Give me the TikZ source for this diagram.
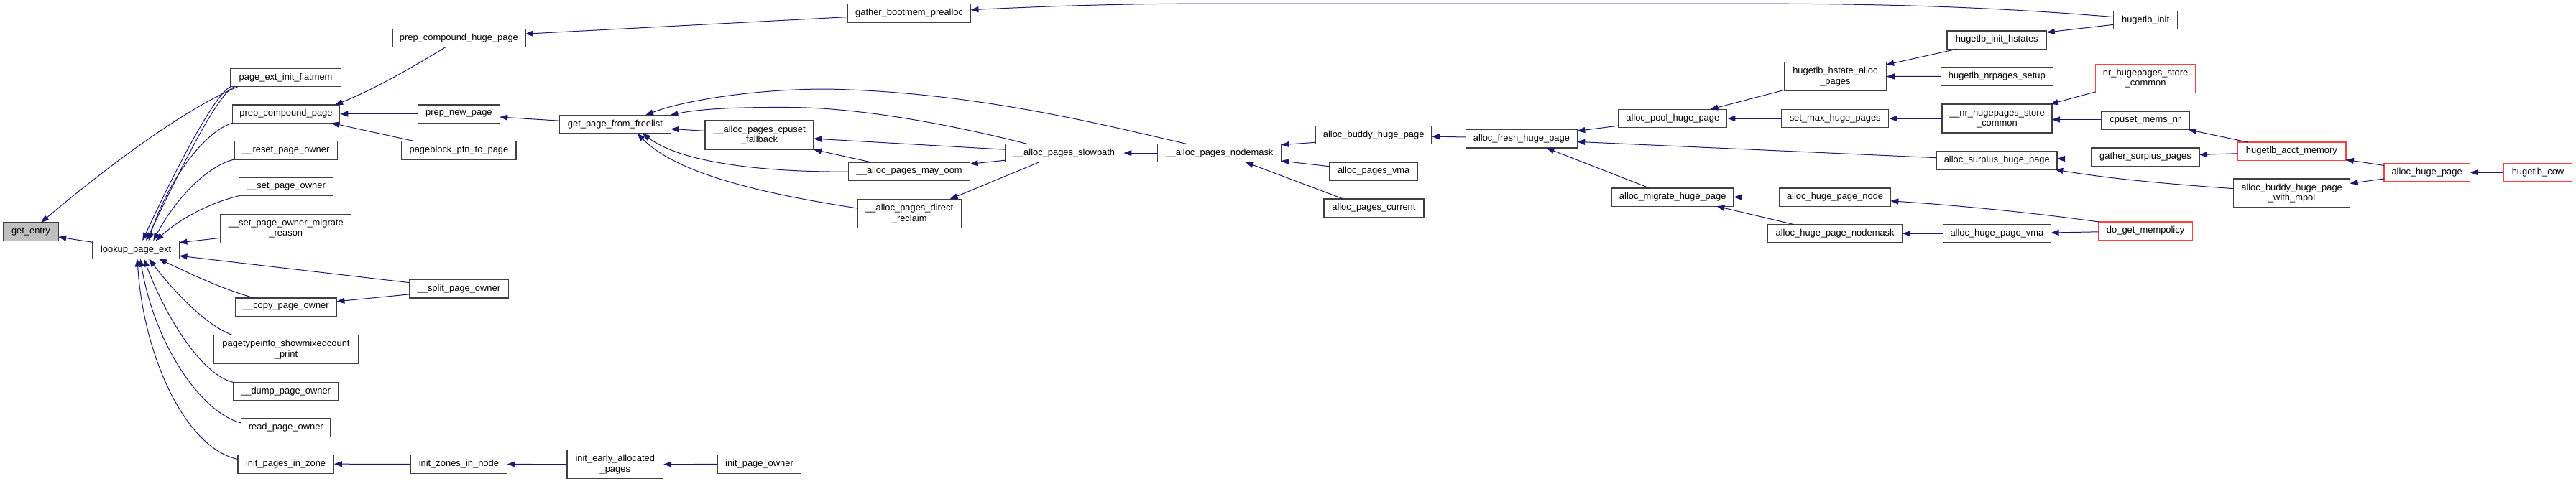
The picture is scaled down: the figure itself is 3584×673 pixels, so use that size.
\documentclass[tikz,border=0pt]{standalone}
\usepackage{fontspec}
\setmainfont{Liberation Sans}
\usetikzlibrary{calc,arrows.meta}
\definecolor{edgecol}{HTML}{191970}
\definecolor{boxcol}{HTML}{404040}
\definecolor{redcol}{HTML}{FF4040}
\definecolor{curfill}{HTML}{BFBFBF}
\tikzset{
  fn/.style={draw=boxcol, line width=1.3pt, fill=white, inner sep=0pt, minimum height=25.3pt,
    font=\fontsize{12.9}{14.4}\selectfont, align=center},
  fntwo/.style={fn, minimum height=40pt},
  hot/.style={draw=redcol},
  e/.style={draw=edgecol, line width=1pt, -{Triangle[length=11pt,width=8pt]}},
}
\begin{document}
\begin{tikzpicture}[x=1pt, y=-1pt]
\useasboundingbox (0,0) rectangle (3584,673);
% column 0-2
\node[fn, fill=curfill, minimum width=76.5pt] (ge) at (42.9,322.5) {get\_entry};
\node[fn, minimum width=120.5pt] (lk) at (189.2,347.9) {lookup\_page\_ext};
\node[fn, minimum width=153.8pt] (pei) at (397.6,108) {page\_ext\_init\_flatmem};
\node[fn, minimum width=149.2pt] (pcp) at (398,158.6) {prep\_compound\_page};
\node[fn, minimum width=142.8pt] (rpo) at (397.8,209.3) {\_\_reset\_page\_owner};
\node[fn, minimum width=130.8pt] (spo) at (398,259.9) {\_\_set\_page\_owner};
\node[fntwo, minimum width=181.8pt] (spomr) at (397.8,318.3) {\_\_set\_page\_owner\_migrate\\\_reason};
\node[fn, minimum width=141.2pt] (cpo) at (397.8,427.7) {\_\_copy\_page\_owner};
\node[fntwo, minimum width=201.2pt] (pti) at (398,486.5) {pagetypeinfo\_showmixedcount\\\_print};
\node[fn, minimum width=145.4pt] (dpo) at (397.6,545.3) {\_\_dump\_page\_owner};
\node[fn, minimum width=124.4pt] (rdpo) at (397.8,595.6) {read\_page\_owner};
\node[fn, minimum width=133.2pt] (ipz) at (397.6,646.2) {init\_pages\_in\_zone};
% column 3
\node[fn, minimum width=184.9pt] (pchp) at (638.4,53) {prep\_compound\_huge\_page};
\node[fn, minimum width=113.7pt] (pnp) at (638.4,158.6) {prep\_new\_page};
\node[fn, minimum width=159.2pt] (pbp) at (638.5,209.3) {pageblock\_pfn\_to\_page};
\node[fn, minimum width=138.1pt] (sppo) at (638.4,402.4) {\_\_split\_page\_owner};
\node[fn, minimum width=133.5pt] (izn) at (638.4,646.4) {init\_zones\_in\_node};
% column 4-5
\node[fn, minimum width=154.6pt] (gpf) at (855.9,173.2) {get\_page\_from\_freelist};
\node[fntwo, minimum width=133.5pt] (ieap) at (855.8,646.6) {init\_early\_allocated\\\_pages};
\node[fntwo, minimum width=151pt] (apcf) at (1056.5,188) {\_\_alloc\_pages\_cpuset\\\_fallback};
\node[fn, minimum width=116.4pt] (ipo) at (1056.5,646.4) {init\_page\_owner};
% column 6-7
\node[fn, minimum width=170.8pt] (gbp) at (1265.1,18.3) {gather\_bootmem\_prealloc};
\node[fn, minimum width=169.1pt] (apmo) at (1265.2,238.5) {\_\_alloc\_pages\_may\_oom};
\node[fntwo, minimum width=144.3pt] (apdr) at (1265.2,297.5) {\_\_alloc\_pages\_direct\\\_reclaim};
\node[fn, minimum width=164.5pt] (aps) at (1480.5,213.1) {\_\_alloc\_pages\_slowpath};
% column 8-10
\node[fn, minimum width=172.2pt] (apn) at (1696.5,213.1) {\_\_alloc\_pages\_nodemask};
\node[fn, minimum width=161.7pt] (abhp) at (1911.2,187.8) {alloc\_buddy\_huge\_page};
\node[fn, minimum width=122.7pt] (apv) at (1911.2,238.5) {alloc\_pages\_vma};
\node[fn, minimum width=138.9pt] (apc) at (1911.4,289.5) {alloc\_pages\_current};
\node[fn, minimum width=154.6pt] (afhp) at (2116.9,193.4) {alloc\_fresh\_huge\_page};
% column 11-12
\node[fn, minimum width=150.9pt] (aphp) at (2327.3,165) {alloc\_pool\_huge\_page};
\node[fn, minimum width=168.9pt] (amhp) at (2327.2,274.5) {alloc\_migrate\_huge\_page};
\node[fntwo, minimum width=141.5pt] (hhap) at (2553.4,106.5) {hugetlb\_hstate\_alloc\\\_pages};
\node[fn, minimum width=149.1pt] (smhp) at (2553.2,165) {set\_max\_huge\_pages};
\node[fn, minimum width=154.4pt] (ahpn) at (2553.1,274.5) {alloc\_huge\_page\_node};
\node[fn, minimum width=186.6pt] (ahpnm) at (2553.1,325.2) {alloc\_huge\_page\_nodemask};
% column 13
\node[fn, minimum width=138.8pt] (hih) at (2778.3,55.6) {hugetlb\_init\_hstates};
\node[fn, minimum width=155.8pt] (hns) at (2778.3,106.3) {hugetlb\_nrpages\_setup};
\node[fntwo, minimum width=153.1pt] (nrsc2) at (2778.4,165) {\_\_nr\_hugepages\_store\\\_common};
\node[fn, minimum width=167.4pt] (ashp) at (2778.3,223.4) {alloc\_surplus\_huge\_page};
\node[fn, minimum width=150.5pt] (ahpv) at (2778.4,325.2) {alloc\_huge\_page\_vma};
% column 14
\node[fn, minimum width=89pt] (hi) at (2985.1,27.9) {hugetlb\_init};
\node[fntwo, hot, minimum width=139.6pt] (nrsc) at (2985.1,109.3) {nr\_hugepages\_store\\\_common};
\node[fn, minimum width=123.5pt] (cmn) at (2984.9,167.9) {cpuset\_mems\_nr};
\node[fn, minimum width=150.1pt] (gsp) at (2985,218.5) {gather\_surplus\_pages};
\node[fn, hot, minimum width=130.9pt] (dgm) at (2985.1,321.5) {do\_get\_mempolicy};
% column 15-17
\node[fn, hot, minimum width=150.9pt] (ham) at (3188.4,210.6) {hugetlb\_acct\_memory};
\node[fntwo, minimum width=161.9pt] (abhpm) at (3188.6,269.1) {alloc\_buddy\_huge\_page\\\_with\_mpol};
\node[fn, hot, minimum width=119.1pt] (ahp) at (3376.6,240.2) {alloc\_huge\_page};
\node[fn, hot, minimum width=95.5pt] (hc) at (3531,240.2) {hugetlb\_cow};

% edges (caller -> callee)
\draw[e] ($(lk)+(-60.2,-10.6)$) -- ($(ge)+(38.3,7.5)$);
\draw[e] ($(pei)+(-66.6,12.7)$) .. controls (250,155) and (140,240) .. ($(ge)+(14.1,-12.6)$);
\draw[e] ($(pei)+(-75.9,12.6)$) .. controls (300,126) and (235,255) .. ($(lk)+(9.1,-12.7)$);
\draw[e] ($(pei)+(-71,12.7)$) .. controls (302,128) and (241,257) .. ($(lk)+(14,-12.7)$);
\draw[e] ($(pcp)+(-74.6,12.6)$) .. controls (280,185) and (230,260) .. ($(lk)+(17.5,-12.7)$);
\draw[e] ($(rpo)+(-71.4,12.6)$) .. controls (290,230) and (245,275) .. ($(lk)+(24.1,-12.7)$);
\draw[e] ($(spo)+(-64.7,12.6)$) .. controls (290,283) and (250,305) .. ($(lk)+(27.5,-12.7)$);
\draw[e] ($(spomr)+(-90.9,13)$) -- ($(lk)+(60.25,-10.1)$);
\draw[e] ($(sppo)+(-69.05,-8.8)$) -- ($(lk)+(60.25,8.3)$);
\draw[e] ($(cpo)+(-43.8,-12.7)$) .. controls (310,403) and (262,380) .. ($(lk)+(32,12.6)$);
\draw[e] ($(pti)+(-74.6,-20)$) .. controls (290,455) and (245,410) .. ($(lk)+(18,12.6)$);
\draw[e] ($(dpo)+(-72.6,-12.7)$) .. controls (280,522) and (230,440) .. ($(lk)+(11,12.6)$);
\draw[e] ($(rdpo)+(-62.2,-6.6)$) .. controls (280,575) and (215,480) .. ($(lk)+(6,12.6)$);
\draw[e] ($(ipz)+(-66.6,-6.7)$) .. controls (260,625) and (200,500) .. ($(lk)+(1.8,12.6)$);
\draw[e] ($(sppo)+(-69.05,7.5)$) -- ($(cpo)+(70.6,-7.9)$);
\draw[e] ($(pchp)+(-18.6,12.7)$) .. controls (580,90) and (520,125) .. ($(pcp)+(68,-12.7)$);
\draw[e] (pnp.west) -- (pcp.east);
\draw[e] ($(pbp)+(-62,-12.7)$) -- ($(pcp)+(63,12.7)$);
\draw[e] ($(gbp)+(-85.4,5.3)$) -- ($(pchp)+(92.45,-5.8)$);
\draw[e] ($(hi)+(-44.5,-4.3)$) .. controls (2750,8) and (2600,5) .. (2400,5) -- (1700,5)
   .. controls (1550,5) and (1450,9) .. ($(gbp)+(85.4,-4.6)$);
\draw[e] ($(gpf)+(-77.3,-5)$) -- ($(pnp)+(56.85,4.4)$);
\draw[e] ($(apn)+(-45.5,-12.7)$) .. controls (1520,170) and (1350,128) .. (1150,124)
   .. controls (1050,124) and (950,140) .. ($(gpf)+(42.1,-12.7)$);
\draw[e] ($(aps)+(-51.5,-12.7)$) .. controls (1330,175) and (1200,150) .. (1100,149.5)
   .. controls (1020,149) and (970,152) .. ($(gpf)+(76.5,-12.7)$);
\draw[e] ($(apcf)+(-75.5,-5.6)$) -- ($(gpf)+(77.3,6.2)$);
\draw[e] ($(apmo)+(-84.55,0.5)$) .. controls (1070,240) and (950,228) .. ($(gpf)+(38.1,12.6)$);
\draw[e] ($(apdr)+(-72.15,-7.5)$) .. controls (1050,268) and (940,240) .. ($(gpf)+(30.6,12.6)$);
\draw[e] ($(aps)+(-82.25,-4.9)$) -- ($(apcf)+(75.5,5.1)$);
\draw[e] ($(apmo)+(-53.5,-12.7)$) -- ($(apcf)+(75.5,20.2)$);
\draw[e] ($(aps)+(-82.25,10.1)$) -- ($(apmo)+(84.55,-10.2)$);
\draw[e] ($(aps)+(-34.6,12.7)$) -- ($(apdr)+(56.3,-20.2)$);
\draw[e] (apn.west) -- (aps.east);
\draw[e] ($(abhp)+(-80.85,10.5)$) -- ($(apn)+(86.1,-11.4)$);
\draw[e] ($(apv)+(-61.35,-6.7)$) -- ($(apn)+(86.1,10.9)$);
\draw[e] ($(apc)+(-43,-12.7)$) -- ($(apn)+(36.4,12.7)$);
\draw[e] ($(afhp)+(-77.3,-2.4)$) -- ($(abhp)+(80.85,2.3)$);
\draw[e] ($(aphp)+(-75.45,10.1)$) -- ($(afhp)+(77.3,-11)$);
\draw[e] ($(ashp)+(-83.7,-3.7)$) -- ($(afhp)+(77.3,4)$);
\draw[e] ($(amhp)+(-32.7,-12.7)$) -- ($(afhp)+(34.6,12.7)$);
\draw[e] ($(hhap)+(-70.75,18.8)$) -- ($(aphp)+(52.2,-12.7)$);
\draw[e] (smhp.west) -- (aphp.east);
\draw[e] ($(hih)+(-56,12.7)$) -- ($(hhap)+(70.75,-16.4)$);
\draw[e] (hns.west) -- (hhap.east);
\draw[e] ($(hi)+(-44.5,6.4)$) -- ($(hih)+(69.4,-10.6)$);
\draw[e] (nrsc2.west) -- (smhp.east);
\draw[e] ($(nrsc)+(-69.8,18.6)$) -- ($(nrsc2)+(74.2,-20)$);
\draw[e] ($(cmn)+(-61.75,-1.4)$) -- ($(nrsc2)+(76.55,1.5)$);
\draw[e] ($(gsp)+(-75.05,2.5)$) -- ($(ashp)+(83.7,-2.4)$);
\draw[e] ($(abhpm)+(-80.95,-6.4)$) .. controls (3000,255) and (2930,248) .. ($(ashp)+(81,12.7)$);
\draw[e] (ahpn.west) -- (amhp.east);
\draw[e] ($(ahpnm)+(-57.6,-12.7)$) -- ($(amhp)+(61.2,12.7)$);
\draw[e] (ahpv.west) -- (ahpnm.east);
\draw[e] ($(dgm)+(-65,-12.5)$) .. controls (2850,299) and (2740,287) .. ($(ahpn)+(77.2,5.3)$);
\draw[e] ($(dgm)+(-65.45,1.3)$) -- ($(ahpv)+(75.25,-1.2)$);
\draw[e] ($(ham)+(-61.6,-12.7)$) -- ($(cmn)+(60,12.7)$);
\draw[e] ($(ham)+(-75.45,3.1)$) -- ($(gsp)+(75.05,-3)$);
\draw[e] ($(ahp)+(-59.55,-9.7)$) -- ($(ham)+(75.45,11.7)$);
\draw[e] ($(ahp)+(-59.55,8.7)$) -- ($(abhpm)+(80.95,-13.7)$);
\draw[e] (hc.west) -- (ahp.east);
\draw[e] (izn.west) -- (ipz.east);
\draw[e] (ieap.west) -- (izn.east);
\draw[e] (ipo.west) -- (ieap.east);
\end{tikzpicture}
\end{document}
